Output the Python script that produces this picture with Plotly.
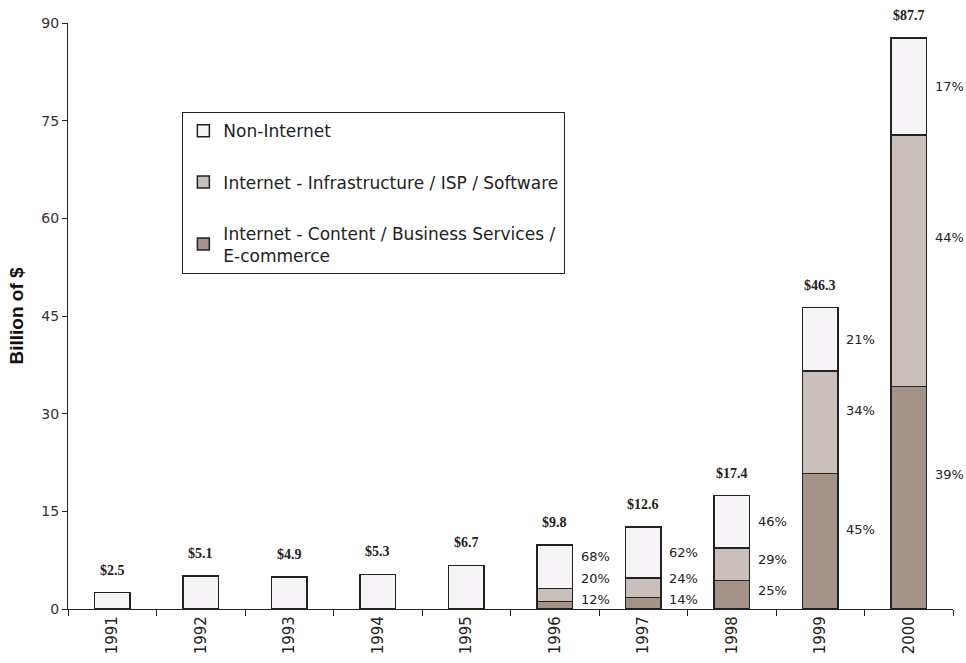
import plotly.graph_objects as go

years = ["1991", "1992", "1993", "1994", "1995", "1996", "1997", "1998", "1999", "2000"]
totals = [2.5, 5.1, 4.9, 5.3, 6.7, 9.8, 12.6, 17.4, 46.3, 87.7]
# shares in percent (None = no split shown)
pct_content = [None, None, None, None, None, 12, 14, 25, 45, 39]
pct_infra = [None, None, None, None, None, 20, 24, 29, 34, 44]
pct_non = [None, None, None, None, None, 68, 62, 46, 21, 17]

col_non = "#f6f4f6"
col_infra = "#c9c0bb"
col_content = "#a39389"
line_col = "#222222"

content_vals = [t * p / 100 if p is not None else None for t, p in zip(totals, pct_content)]
infra_vals = [t * p / 100 if p is not None else None for t, p in zip(totals, pct_infra)]
non_vals = [t - (c or 0) - (i or 0) for t, c, i in zip(totals, content_vals, infra_vals)]

fig = go.Figure()
common = dict(width=0.4, marker_line=dict(color=line_col, width=1.5))
fig.add_trace(go.Bar(x=years, y=content_vals, name="Internet - Content / Business Services /<br>E-commerce",
                     marker_color=col_content, legendgroup="c", legendrank=3, **common))
fig.add_trace(go.Bar(x=years, y=infra_vals, name="Internet - Infrastructure / ISP / Software",
                     marker_color=col_infra, legendgroup="i", legendrank=2, **common))
fig.add_trace(go.Bar(x=years, y=non_vals, name="Non-Internet",
                     marker_color=col_non, legendgroup="n", legendrank=1, **common))

annotations = []
for i, t in enumerate(totals):
    annotations.append(dict(x=i, y=t, text=f"<b>${t}</b>", showarrow=False, yanchor="bottom", yshift=13,
                            font=dict(family="Liberation Serif", size=14, color="#222")))
# percent labels: segment centres, spread apart with a minimum gap
min_gap = 3.3
for i, yr in enumerate(years):
    if pct_content[i] is None:
        continue
    c, inf, n = content_vals[i], infra_vals[i], non_vals[i]
    centers = [c / 2, c + inf / 2, c + inf + n / 2]
    pcts = [pct_content[i], pct_infra[i], pct_non[i]]
    ys = []
    prev = -10
    for k, cy in enumerate(centers):
        yv = cy + 0.04 * (c + inf + n) if k < 2 else cy
        yv = max(yv, prev + min_gap, 1.4)
        ys.append(yv)
        prev = yv
    for p, yv in zip(pcts, ys):
        annotations.append(dict(x=i, y=yv, text=f"{p}%", showarrow=False, xanchor="left", xshift=24,
                                font=dict(family="DejaVu Sans", size=13, color="#222")))

fig.update_layout(
    barmode="stack",
    width=966, height=663,
    margin=dict(l=68, r=13, t=23, b=54),
    plot_bgcolor="white", paper_bgcolor="white",
    font=dict(family="DejaVu Sans", color="#222"),
    showlegend=True,
    legend=dict(x=0.129, y=0.848, xanchor="left", yanchor="top",
                bordercolor="#222", borderwidth=1.2, bgcolor="white",
                traceorder="grouped", tracegroupgap=26,
                font=dict(family="DejaVu Sans", size=17, color="#222"),
                itemwidth=30),
    annotations=annotations,
)
fig.update_xaxes(type="category", range=[-0.5, 9.5], showline=True, linecolor="#222", linewidth=1.2,
                 ticks="outside", ticklen=6, tickcolor="#222", tickson="boundaries", automargin=False,
                 tickangle=-90, tickfont=dict(family="DejaVu Sans", size=15, color="#222"), showgrid=False)
fig.update_yaxes(range=[0, 90], dtick=15, showline=True, linecolor="#222", linewidth=1.2,
                 ticks="outside", ticklen=5, tickcolor="#222", showgrid=False, zeroline=False,
                 automargin=False,
                 tickfont=dict(family="DejaVu Sans", size=14, color="#333"),
                 title=dict(text="<b>Billion of $</b>", font=dict(family="Liberation Sans", size=19, color="#111"),
                            standoff=12))

fig.write_html("out.html")
